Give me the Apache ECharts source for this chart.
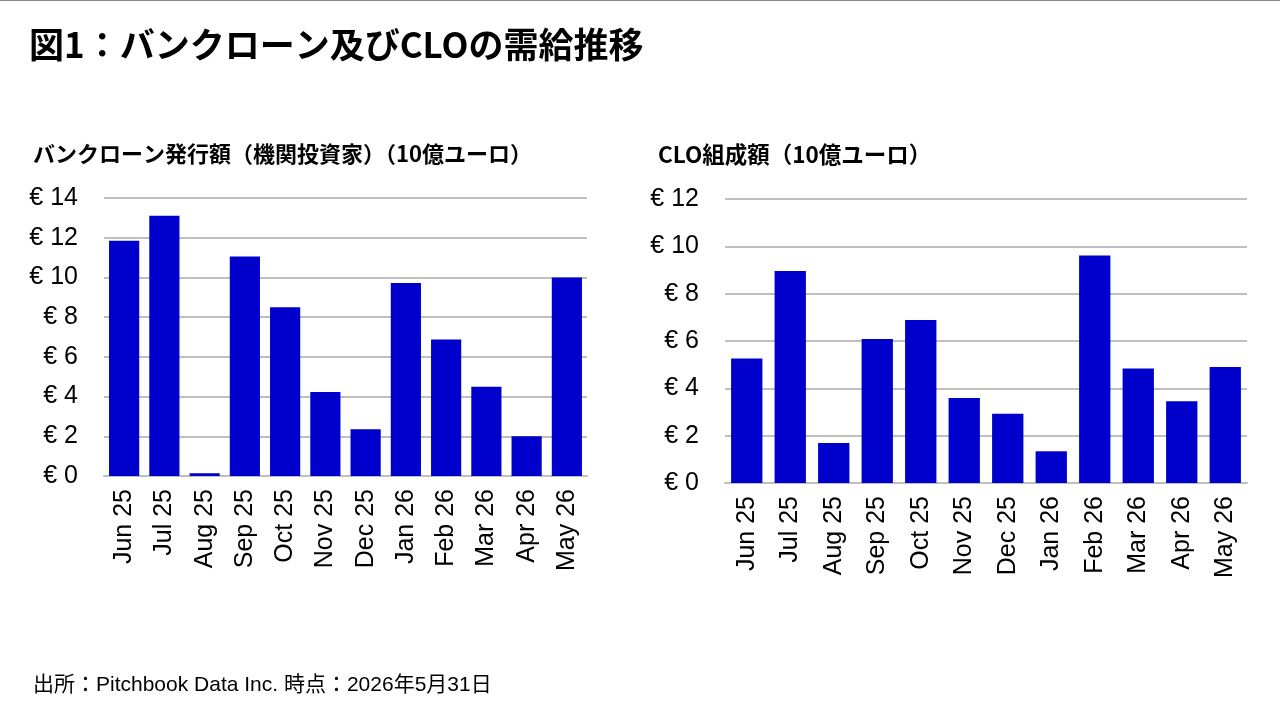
<!DOCTYPE html>
<html><head><meta charset="utf-8">
<script src="https://cdn.jsdelivr.net/npm/echarts@6/dist/echarts.min.js"></script>
<style>html,body{margin:0;padding:0;background:#fff}#c{width:1280px;height:720px}</style>
</head><body><div id="c"></div>
<script>
const categories = ['Jun 25','Jul 25','Aug 25','Sep 25','Oct 25','Nov 25','Dec 25','Jan 26','Feb 26','Mar 26','Apr 26','May 26'];
const loanIssuance = [11.85, 13.1, 0.14, 11.05, 8.5, 4.23, 2.35, 9.72, 6.88, 4.5, 2.0, 10.0];
const cloIssuance = [5.26, 8.96, 1.69, 6.08, 6.89, 3.59, 2.93, 1.34, 9.61, 4.84, 3.45, 4.9];
const mainTitle = '図1：バンクローン及びCLOの需給推移';
const leftTitle = 'バンクローン発行額（機関投資家）（10億ユーロ）';
const rightTitle = 'CLO組成額（10億ユーロ）';
const footer = '出所：Pitchbook Data Inc. 時点：2026年5月31日';

const chart = echarts.init(document.getElementById('c'));
const jp = '"Noto Sans CJK JP", sans-serif';
const lat = '"Liberation Sans", Arial, sans-serif';
const barColor = '#0000CD';
function xAx(i){return {type:'category',gridIndex:i,data:categories,
  axisLine:{show:true,lineStyle:{color:'#bfbfbf',width:2}},axisTick:{show:false},
  axisLabel:{rotate:90,fontSize:25,color:'#000',fontFamily:lat,margin:13}};}
function yAx(i,max){return {type:'value',gridIndex:i,min:0,max:max,interval:2,
  axisLine:{show:false},axisTick:{show:false},
  splitLine:{lineStyle:{color:'#bfbfbf',width:2}},
  axisLabel:{fontSize:25,color:'#000',fontFamily:lat,margin:26,formatter:v=>'€ '+v}};}
chart.setOption({
  animation:false,
  title:[
    {text:mainTitle,left:24,top:22,textStyle:{fontFamily:jp,fontWeight:'bold',fontSize:35,color:'#000'}},
    {text:leftTitle,left:28,top:138,textStyle:{fontFamily:jp,fontWeight:'bold',fontSize:22,color:'#000'}},
    {text:rightTitle,left:653,top:138,textStyle:{fontFamily:jp,fontWeight:'bold',fontSize:22.5,color:'#000'}},
    {text:footer,left:28,top:670,textStyle:{fontFamily:lat+','+jp,fontWeight:'normal',fontSize:21,color:'#000'}}
  ],
  graphic:[{type:'rect',shape:{x:0,y:0,width:1280,height:1},style:{fill:'#888'}}],
  grid:[{left:104,width:483,top:198,height:278},{left:725,width:522,top:199,height:284}],
  xAxis:[xAx(0),xAx(1)],
  yAxis:[yAx(0,14),yAx(1,12)],
  series:[
    {type:'bar',xAxisIndex:0,yAxisIndex:0,data:loanIssuance,barCategoryGap:'25%',itemStyle:{color:barColor}},
    {type:'bar',xAxisIndex:1,yAxisIndex:1,data:cloIssuance,barCategoryGap:'28%',itemStyle:{color:barColor}}
  ]
});
</script></body></html>
